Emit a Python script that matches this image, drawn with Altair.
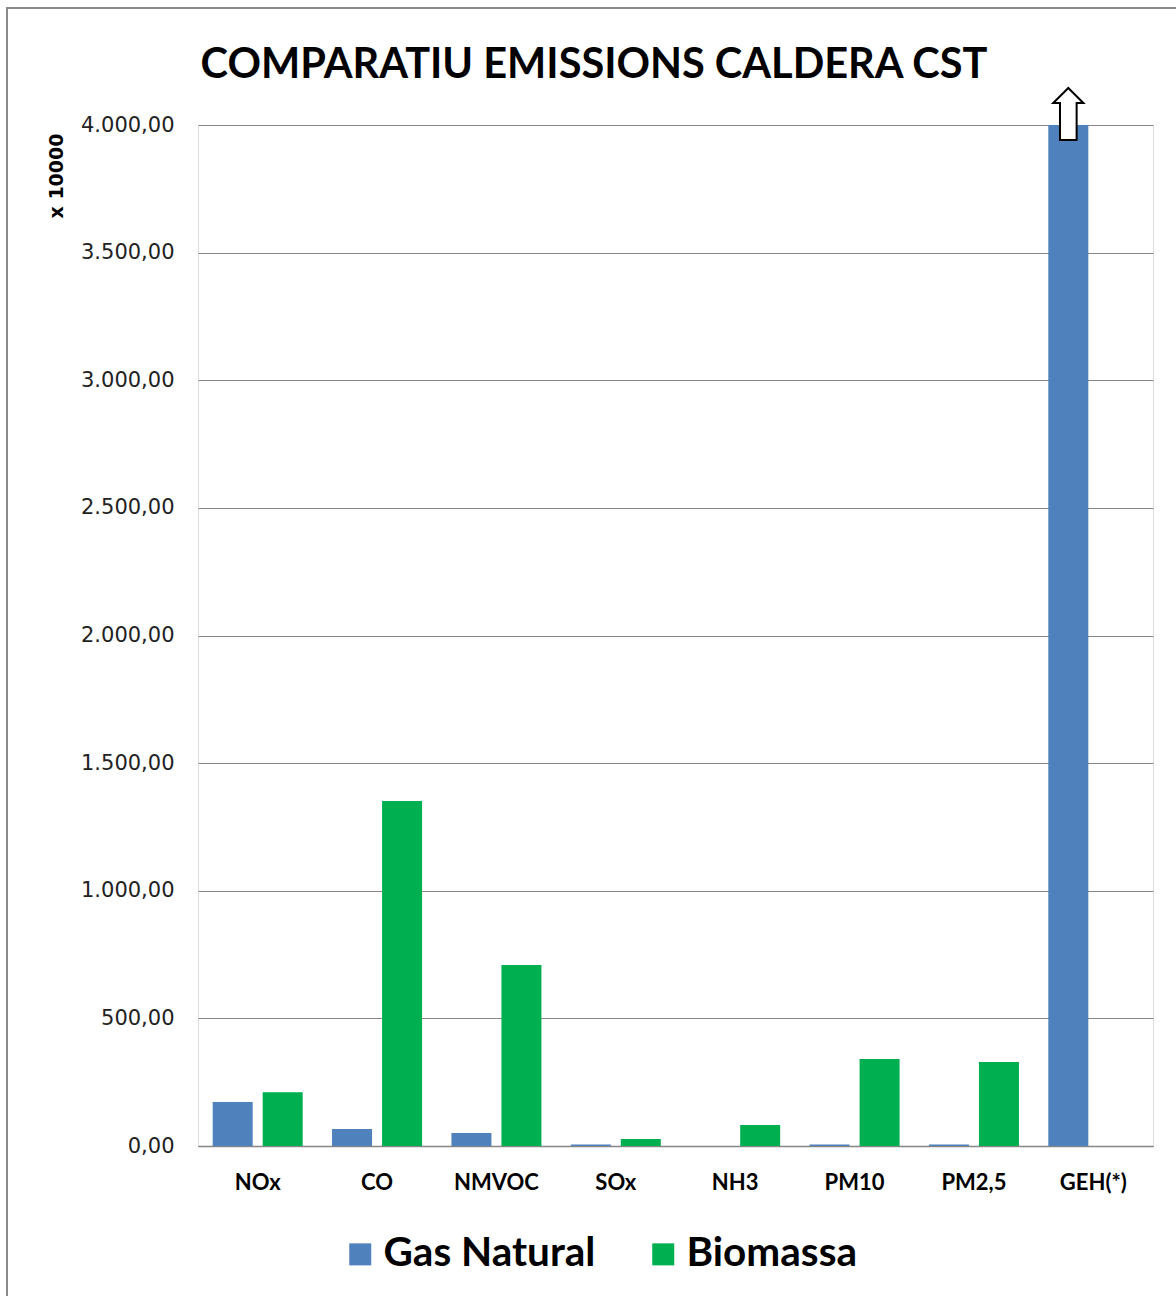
import altair as alt
import pandas as pd

title_text = "COMPARATIU EMISSIONS CALDERA CST"
categories = ["NOx", "CO", "NMVOC", "SOx", "NH3", "PM10", "PM2,5", "GEH(*)"]
series_names = ["Gas Natural", "Biomassa"]
gas_natural = [172, 67, 51, 6, 0, 6, 6, 4000]
biomassa = [211, 1352, 709, 27, 82, 341, 329, 0]
y_ticks = [0, 500, 1000, 1500, 2000, 2500, 3000, 3500, 4000]
colors = ["#4F81BD", "#00B050"]

rows = []
for i, c in enumerate(categories):
    rows.append({"cat": c, "serie": series_names[0], "val": gas_natural[i]})
    rows.append({"cat": c, "serie": series_names[1], "val": biomassa[i]})
df = pd.DataFrame(rows)

arrow_df = pd.DataFrame([{"cat": "GEH(*)", "serie": "Gas Natural", "val": 4000}])

W, H = 955, 1021
PL, PT = 198, 125

x_enc = alt.X("cat:N", sort=categories,
              scale=alt.Scale(paddingInner=0.246, paddingOuter=0.123),
              axis=alt.Axis(title=None, labelAngle=0, labelFont="Lato", labelFontWeight="bold",
                            labelFontSize=22, labelColor="#000000", labelPadding=26,
                            ticks=False, domainColor="#868686", domainWidth=1.5))
xoff_enc = alt.XOffset("serie:N", sort=series_names,
                       scale=alt.Scale(paddingInner=0.2, paddingOuter=0))
y_scale = alt.Scale(domain=[0, 4000], nice=False)

label_expr = "replace(replace(replace(format(datum.value, ',.2f'), ',', '#'), '.', ','), '#', '.')"

bars = alt.Chart(df).mark_bar().encode(
    x=x_enc,
    xOffset=xoff_enc,
    y=alt.Y("val:Q", scale=y_scale,
            axis=alt.Axis(title="x 10000", values=y_ticks, labelExpr=label_expr,
                          labelFont="DejaVu Sans", labelFontSize=21, labelColor="#222222",
                          labelPadding=24, ticks=False, domain=False,
                          grid=True, gridColor="#868686", gridWidth=1,
                          titleFont="DejaVu Sans", titleFontWeight="bold", titleFontSize=19,
                          titleAngle=-90, titleAnchor="end", titleAlign="right",
                          titleX=-132, titleY=8, titleColor="#000000")),
    color=alt.Color("serie:N", sort=series_names,
                    scale=alt.Scale(domain=series_names, range=colors),
                    legend=alt.Legend(title=None, orient="none", direction="horizontal",
                                      legendX=142, legendY=1109,
                                      labelFont="Lato", labelFontWeight="bold", labelFontSize=40.5,
                                      labelColor="#000000", symbolType="square", symbolSize=484,
                                      symbolStrokeWidth=0, labelOffset=3, columnPadding=47,
                                      labelLimit=400)),
)

arrow_path = "M0,-1 L0.58,-0.42 L0.32,-0.42 L0.32,1 L-0.32,1 L-0.32,-0.42 L-0.58,-0.42 Z"
arrow = alt.Chart(arrow_df).mark_point(
    shape=arrow_path, size=2704, filled=True, fill="white", stroke="black",
    strokeWidth=2, opacity=1, yOffset=-11
).encode(
    x=alt.X("cat:N", sort=categories),
    xOffset=alt.XOffset("serie:N", sort=series_names),
    y=alt.Y("val:Q", scale=y_scale),
)

one = pd.DataFrame([{"t": title_text}])

border = alt.Chart(one).mark_rect(
    fill="white", fillOpacity=0, stroke="#8a8a8a", strokeWidth=2
).encode(
    x=alt.value(7 - PL), x2=alt.value(1300),
    y=alt.value(8 - PT), y2=alt.value(1400),
)

title = alt.Chart(one).mark_text(
    font="Lato", fontWeight="bold", fontSize=41.5, color="#000000",
    align="center", baseline="alphabetic"
).encode(
    text="t:N", x=alt.value(594 - PL), y=alt.value(78 - PT),
)

chart = alt.layer(border, title, bars, arrow).properties(
    width=W, height=H,
    autosize=alt.AutoSizeParams(type="none"),
    padding={"left": PL, "top": PT, "right": 1176 - PL - W, "bottom": 1296 - PT - H},
).configure_view(stroke=None).configure(background="white")

chart.save("out.html", embed_options={"renderer": "svg", "actions": False})
